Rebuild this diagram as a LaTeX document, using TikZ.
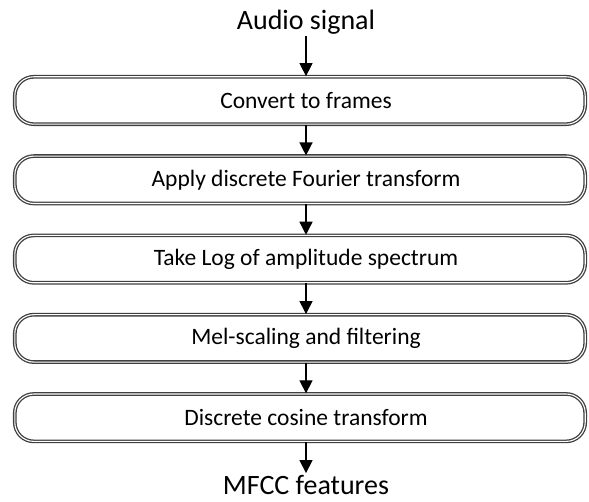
\documentclass[tikz,border=0pt]{standalone}
\usepackage{fontspec}
\setmainfont{Carlito}
\usetikzlibrary{positioning,arrows.meta}

\tikzset{
  stage/.style={draw=black!75, double=white, line width=1.3pt, double distance=1.1pt,
    rounded corners=19pt, minimum width=570.4pt, minimum height=47.4pt, inner sep=0pt,
    font=\fontsize{23.5}{26}\selectfont, execute at begin node=\hspace*{12pt}},
  flow/.style={line width=1.3pt, -{Triangle[width=13pt,length=13pt]}}
}

\begin{document}
\begin{tikzpicture}[x=1pt, y=1pt]
    \useasboundingbox (0,0) rectangle (589,502);
    \node[font=\fontsize{28}{32}\selectfont, inner sep=2pt] (audio) at (306,480) {Audio signal};
    \node[stage] (frames) at (300,401.5) {Convert to frames};
    \node[stage, below=30.6pt of frames] (dft) {Apply discrete Fourier transform};
    \node[stage, below=30.6pt of dft] (logamp) {Take Log of amplitude spectrum};
    \node[stage, below=30.6pt of logamp] (melfilt) {Mel-scaling and filtering};
    \node[stage, below=30.6pt of melfilt] (dct) {Discrete cosine transform};
    \node[font=\fontsize{28}{32}\selectfont, inner sep=2pt] (mfcc) at (306,17) {MFCC features};
    \draw[flow] (audio.south) -- (audio |- frames.north);
    \draw[flow] (audio |- frames.south) -- (audio |- dft.north);
    \draw[flow] (audio |- dft.south) -- (audio |- logamp.north);
    \draw[flow] (audio |- logamp.south) -- (audio |- melfilt.north);
    \draw[flow] (audio |- melfilt.south) -- (audio |- dct.north);
    \draw[flow] (audio |- dct.south) -- (mfcc.north);
\end{tikzpicture}
\end{document}
